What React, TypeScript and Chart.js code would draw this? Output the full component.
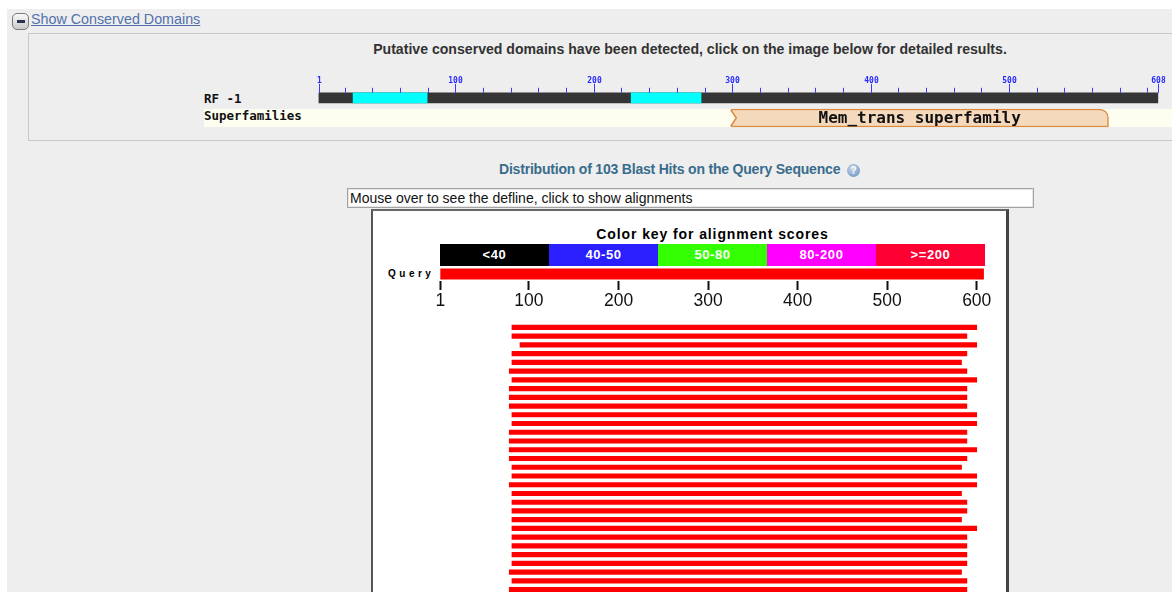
import React, { useEffect, useRef } from "react";
import { Chart, registerables } from "chart.js";

Chart.register(...registerables);

// ---------- data ----------
const SEQ_MIN = 1;
const SEQ_MAX = 608;

// conserved-domain ruler
const rowLabels = ["RF -1", "Superfamilies"];
const rulerMajorTicks = [1, 100, 200, 300, 400, 500, 608];
const rulerMinorStep = 20;
const domainStarts = [26, 227];
const domainEnds = [79.5, 277.5];
const superfamilyName = "Mem_trans superfamily";
const superfamilyRange = [299, 572];

// colour key
const keyLabels = ["<40", "40-50", "50-80", "80-200", ">=200"];
const keyColors = ["#000000", "#2a20ff", "#33ff00", "#ff00ff", "#ff0033"];

// query axis
const queryLabel = "Query";
const queryRange = [1, 608];
const queryTicks = [1, 100, 200, 300, 400, 500, 600];

// visible blast hits (start, end on query)
const hitStarts = [81, 81, 90, 81, 81, 78, 81, 78, 78, 78, 81, 81, 78, 78, 78, 78, 81, 81, 78, 81, 81, 81, 81, 81, 81, 81, 81, 81, 78, 81, 78];
const hitEnds = [600, 589, 600, 589, 583, 589, 600, 589, 589, 589, 600, 600, 589, 589, 600, 589, 583, 600, 600, 583, 589, 589, 583, 600, 589, 589, 589, 589, 583, 589, 589];
const hitLabels = hitStarts.map((_, i) => "hit " + (i + 1));

const SANS = "'Liberation Sans', Arial, sans-serif";
const MONO = "'DejaVu Sans Mono', monospace";

const domainPlugin = {
  id: "domainDecor",
  afterDatasetsDraw(chart: any) {
    const { ctx } = chart;
    const xs = chart.scales.x;
    const ys = chart.scales.y;
    const rulerMid = ys.getPixelForValue(0);
    const rulerTop = rulerMid - 5;
    ctx.save();
    // ruler ticks
    ctx.strokeStyle = "#3a3aff";
    ctx.lineWidth = 1;
    const minor: number[] = [];
    for (let v = rulerMinorStep; v < SEQ_MAX; v += rulerMinorStep) minor.push(v);
    minor.forEach((v) => {
      const px = Math.round(xs.getPixelForValue(v)) + 0.5;
      ctx.beginPath();
      ctx.moveTo(px, rulerTop - 5);
      ctx.lineTo(px, rulerTop);
      ctx.stroke();
    });
    ctx.fillStyle = "#2828ff";
    ctx.font = "bold 8px " + MONO;
    ctx.textAlign = "center";
    ctx.textBaseline = "middle";
    rulerMajorTicks.forEach((v) => {
      const px = Math.round(xs.getPixelForValue(v)) + 0.5;
      ctx.beginPath();
      ctx.moveTo(px, rulerTop - 9);
      ctx.lineTo(px, rulerTop);
      ctx.stroke();
      ctx.fillText(String(v), px, rulerTop - 12);
    });
    // superfamily notch + label
    const sy = ys.getPixelForValue(1);
    const x0 = xs.getPixelForValue(superfamilyRange[0]);
    const x1 = xs.getPixelForValue(superfamilyRange[1]);
    const top = sy - 9;
    const bot = sy + 9;
    ctx.fillStyle = "#fefef0";
    ctx.beginPath();
    ctx.moveTo(x0 - 1, top);
    ctx.lineTo(x0, top);
    ctx.lineTo(x0 + 5.5, sy);
    ctx.lineTo(x0, bot);
    ctx.lineTo(x0 - 1, bot);
    ctx.closePath();
    ctx.fill();
    ctx.strokeStyle = "#dc8b3c";
    ctx.lineWidth = 1.5;
    ctx.beginPath();
    ctx.moveTo(x0, top + 0.75);
    ctx.lineTo(x0 + 5.5, sy);
    ctx.lineTo(x0, bot - 0.75);
    ctx.stroke();
    ctx.fillStyle = "#111";
    ctx.font = "bold 16px " + MONO;
    ctx.fillText(superfamilyName, (x0 + x1) / 2, sy + 1);
    ctx.restore();
  },
};

export default function App() {
  const domRef = useRef<HTMLCanvasElement>(null);
  const qRef = useRef<HTMLCanvasElement>(null);
  const hitRef = useRef<HTMLCanvasElement>(null);

  useEffect(() => {
    const charts: Chart[] = [];
    if (domRef.current) {
      const datasets: any[] = [
        ...domainStarts.map((s, i) => ({
          label: "domain " + (i + 1),
          data: [[s, domainEnds[i]], null],
          backgroundColor: "#00ffff",
          barThickness: 10,
          grouped: false,
        })),
        {
          label: "RF -1",
          data: [[SEQ_MIN, SEQ_MAX], null],
          backgroundColor: "#353535",
          barThickness: 10,
          grouped: false,
        },
        {
          label: superfamilyName,
          data: [null, superfamilyRange],
          backgroundColor: "#f5d9bd",
          borderColor: "#dc8b3c",
          borderWidth: 1.5,
          borderSkipped: "left",
          borderRadius: { topLeft: 0, topRight: 9, bottomLeft: 0, bottomRight: 0 },
          barThickness: 18,
          grouped: false,
        },
      ];
      charts.push(
        new Chart(domRef.current, {
          type: "bar",
          data: { labels: rowLabels, datasets },
          options: {
            indexAxis: "y",
            animation: false,
            responsive: false,
            events: [],
            layout: { padding: { left: 18.5, right: 13.7, top: 17.7, bottom: 3.9 } },
            plugins: { legend: { display: false }, tooltip: { enabled: false } },
            scales: {
              x: { type: "linear", min: SEQ_MIN, max: SEQ_MAX, display: false },
              y: { type: "category", display: false },
            },
          },
          plugins: [domainPlugin],
        } as any)
      );
    }
    if (qRef.current) {
      charts.push(
        new Chart(qRef.current, {
          type: "bar",
          data: {
            labels: [queryLabel],
            datasets: [
              { label: queryLabel, data: [queryRange], backgroundColor: "#ff0000", barThickness: 10.5 },
            ],
          },
          options: {
            indexAxis: "y",
            animation: false,
            responsive: false,
            events: [],
            layout: { padding: { left: 60.3, right: 16.1, top: 5, bottom: 0 } },
            plugins: { legend: { display: false }, tooltip: { enabled: false } },
            scales: {
              x: {
                type: "linear",
                min: queryRange[0],
                max: queryRange[1],
                position: "bottom",
                afterBuildTicks: (scale: any) => {
                  scale.ticks = queryTicks.map((v) => ({ value: v }));
                },
                afterFit: (scale: any) => {
                  scale.height = 30;
                },
                grid: {
                  display: true,
                  drawOnChartArea: false,
                  drawTicks: true,
                  tickLength: 9,
                  tickWidth: 2,
                  tickColor: "#111",
                },
                border: { display: false },
                ticks: {
                  padding: 1,
                  maxRotation: 0,
                  autoSkip: false,
                  color: "#111",
                  font: { family: SANS, size: 17.5 },
                  callback: (v: any) => String(v),
                },
              },
              y: { type: "category", display: false },
            },
          },
        } as any)
      );
    }
    if (hitRef.current) {
      charts.push(
        new Chart(hitRef.current, {
          type: "bar",
          data: {
            labels: hitLabels,
            datasets: [
              {
                label: "hits",
                data: hitStarts.map((s, i) => [s, hitEnds[i]]),
                backgroundColor: "#ff0000",
                barThickness: 4.5,
              },
            ],
          },
          options: {
            indexAxis: "y",
            animation: false,
            responsive: false,
            events: [],
            layout: { padding: { left: 60.3, right: 16.1, top: 0, bottom: 0 } },
            plugins: { legend: { display: false }, tooltip: { enabled: false } },
            scales: {
              x: { type: "linear", min: SEQ_MIN, max: SEQ_MAX, display: false },
              y: { type: "category", display: false },
            },
          },
        } as any)
      );
    }
    return () => charts.forEach((c) => c.destroy());
  }, []);

  const keyLeft = 440;
  const keyWidth = 545;
  const segW = keyWidth / keyLabels.length;

  return (
    <div
      style={{
        position: "absolute",
        left: 0,
        top: 0,
        width: 1172,
        height: 592,
        overflow: "hidden",
        background: "#ffffff",
        fontFamily: SANS,
      }}
    >
      <div style={{ position: "absolute", left: 7, top: 9, right: 0, bottom: 0, background: "#eeeeee" }} />
      {/* toggle icon */}
      <div
        style={{
          position: "absolute",
          left: 12,
          top: 13,
          width: 15,
          height: 15,
          border: "1px solid #7a7a7a",
          borderRadius: 5,
          background: "linear-gradient(#fafafa, #c9c9c9)",
        }}
      >
        <div style={{ position: "absolute", left: 4, top: 6, width: 8, height: 3, background: "#2b3350" }} />
      </div>
      <div
        style={{
          position: "absolute",
          left: 31,
          top: 11,
          fontSize: 14.3,
          lineHeight: "16px",
          color: "#5271ad",
          textDecoration: "underline",
          whiteSpace: "nowrap",
        }}
      >
        Show Conserved Domains
      </div>
      {/* conserved domains box */}
      <div
        style={{
          position: "absolute",
          left: 28,
          top: 33,
          width: 1200,
          height: 106,
          border: "1px solid #c9c9c9",
        }}
      />
      <div
        style={{
          position: "absolute",
          left: 371,
          width: 638,
          top: 41,
          textAlign: "center",
          fontSize: 14.1,
          lineHeight: "16px",
          fontWeight: "bold",
          color: "#333333",
          whiteSpace: "nowrap",
        }}
      >
        Putative conserved domains have been detected, click on the image below for detailed results.
      </div>
      <div style={{ position: "absolute", left: 204, top: 109, width: 980, height: 18, background: "#fefef0" }} />
      <div
        style={{
          position: "absolute",
          left: 204,
          top: 91,
          fontFamily: MONO,
          fontWeight: "bold",
          fontSize: 12.5,
          lineHeight: "16px",
          color: "#111",
          whiteSpace: "pre",
        }}
      >
        {rowLabels[0]}
      </div>
      <div
        style={{
          position: "absolute",
          left: 204,
          top: 108,
          fontFamily: MONO,
          fontWeight: "bold",
          fontSize: 12.5,
          lineHeight: "16px",
          color: "#111",
          whiteSpace: "pre",
        }}
      >
        {rowLabels[1]}
      </div>
      <canvas ref={domRef} width={872} height={62} style={{ position: "absolute", left: 300, top: 70, width: 872, height: 62 }} />

      {/* distribution title */}
      <div
        style={{
          position: "absolute",
          left: 499,
          top: 161,
          fontSize: 14,
          lineHeight: "16px",
          fontWeight: "bold",
          letterSpacing: "-0.2px",
          color: "#386c8c",
          whiteSpace: "nowrap",
        }}
      >
        Distribution of 103 Blast Hits on the Query Sequence
      </div>
      <div
        style={{
          position: "absolute",
          left: 847,
          top: 164,
          width: 13,
          height: 13,
          borderRadius: "50%",
          background: "radial-gradient(circle at 40% 35%, #c9dcef, #5b86b6)",
          color: "#fff",
          fontSize: 10,
          fontWeight: "bold",
          lineHeight: "13px",
          textAlign: "center",
        }}
      >
        ?
      </div>

      {/* graphic frame */}
      <div
        style={{
          position: "absolute",
          left: 371,
          top: 209,
          width: 633,
          height: 420,
          background: "#ffffff",
          borderLeft: "2px solid #555555",
          borderRight: "3px solid #444444",
          borderTop: "2px solid #666666",
        }}
      />
      {/* defline box */}
      <div
        style={{
          position: "absolute",
          left: 347,
          top: 188,
          width: 683,
          height: 18,
          background: "#ffffff",
          border: "1px solid #a3a3a3",
          boxShadow: "inset 0 0 0 1px #e6e6e6",
          fontSize: 14,
          lineHeight: "18px",
          paddingLeft: 2,
          boxSizing: "content-box",
          color: "#111",
          whiteSpace: "nowrap",
        }}
      >
        Mouse over to see the defline, click to show alignments
      </div>

      <div
        style={{
          position: "absolute",
          left: keyLeft,
          width: keyWidth,
          top: 225,
          textAlign: "center",
          fontSize: 14,
          lineHeight: "18px",
          fontWeight: "bold",
          letterSpacing: "0.9px",
          color: "#000",
          whiteSpace: "nowrap",
        }}
      >
        Color key for alignment scores
      </div>
      {keyLabels.map((lab, i) => (
        <div
          key={lab}
          style={{
            position: "absolute",
            left: keyLeft + i * segW,
            width: segW,
            top: 244,
            height: 22,
            background: keyColors[i],
            color: "#ffffff",
            fontSize: 13,
            fontWeight: "bold",
            letterSpacing: "0.6px",
            lineHeight: "22px",
            textAlign: "center",
            whiteSpace: "nowrap",
          }}
        >
          {lab}
        </div>
      ))}
      <div
        style={{
          position: "absolute",
          left: 388,
          top: 267,
          fontSize: 10,
          lineHeight: "13px",
          fontWeight: "bold",
          letterSpacing: "3.5px",
          color: "#000",
          whiteSpace: "nowrap",
        }}
      >
        {queryLabel}
      </div>
      <canvas ref={qRef} width={620} height={49} style={{ position: "absolute", left: 380, top: 262, width: 620, height: 49 }} />
      <canvas ref={hitRef} width={620} height={271} style={{ position: "absolute", left: 380, top: 322.8, width: 620, height: 271 }} />
    </div>
  );
}
